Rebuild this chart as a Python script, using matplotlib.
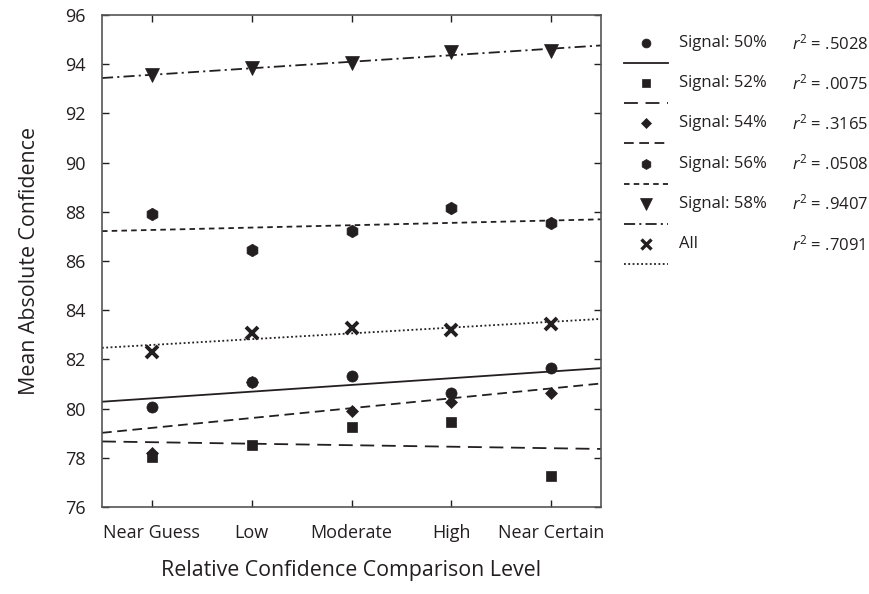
import matplotlib
matplotlib.use("Agg")
import matplotlib.pyplot as plt
import numpy as np

plt.rcParams['font.family'] = ['Open Sans', 'DejaVu Sans']
plt.rcParams['mathtext.fontset'] = 'custom'
plt.rcParams['mathtext.rm'] = 'Open Sans'
plt.rcParams['mathtext.it'] = 'Open Sans:italic'
plt.rcParams['lines.scale_dashes'] = False

# data
levels = ["Near Guess", "Low", "Moderate", "High", "Near Certain"]
series_names = ["Signal: 50%", "Signal: 52%", "Signal: 54%", "Signal: 56%", "Signal: 58%", "All"]
r2_labels = [".5028", ".0075", ".3165", ".0508", ".9407", ".7091"]
signal_50 = [80.07, 81.10, 81.33, 80.65, 81.66]
signal_52 = [78.05, 78.52, 79.25, 79.47, 77.27]
signal_54 = [78.20, 81.10, 79.90, 80.27, 80.62]
signal_56 = [87.92, 86.45, 87.20, 88.15, 87.55]
signal_58 = [93.55, 93.85, 94.05, 94.50, 94.55]
signal_all = [82.32, 83.07, 83.27, 83.20, 83.43]

ink = '#231f20'
markers = ['o', 's', 'D', 'h', 'v', 'x']
msizes = [8, 7.5, 6.5, 9, 10, 9]
dashes = [None, (10, 5.5), (7, 4), (4, 3), (8, 3, 1.5, 3), (1.3, 1.8)]

fig = plt.figure(figsize=(8.69, 5.94), dpi=100)
ax = fig.add_axes([102 / 869, 1 - 507 / 594, 499 / 869, 492 / 594])

xs = np.arange(len(levels))
xfit = np.array([-0.5, len(levels) - 0.5])
all_series = [signal_50, signal_52, signal_54, signal_56, signal_58, signal_all]
for vals, mk, ms, ds in zip(all_series, markers, msizes, dashes):
    ax.plot(xs, vals, linestyle='none', marker=mk, ms=ms, color=ink,
            mew=2.8 if mk == 'x' else 0.5, zorder=3)
    slope, icpt = np.polyfit(xs, vals, 1)
    ln, = ax.plot(xfit, icpt + slope * xfit, color=ink, lw=1.3, zorder=2)
    if ds is not None:
        ln.set_dashes(ds)

ax.set_xlim(-0.5, len(levels) - 0.5)
ax.set_ylim(76, 96)
ax.set_yticks(np.arange(76, 97, 2))
ax.set_xticks(xs)
ax.set_xticklabels(levels)
ax.tick_params(direction='in', top=True, right=True, length=5, width=1,
               color=ink, labelcolor=ink, labelsize=13, pad=12)
for sp in ax.spines.values():
    sp.set_color('#555555')
    sp.set_linewidth(1.2)
ax.set_xlabel("Relative Confidence Comparison Level", fontsize=15.4, color=ink, labelpad=13)
ax.set_ylabel("Mean Absolute Confidence", fontsize=15.4, color=ink, labelpad=18)

# legend drawn in pixel coordinates at the right of the plot
lg = fig.add_axes([0, 0, 1, 1])
lg.set_xlim(0, 869)
lg.set_ylim(594, 0)
lg.axis('off')
for i, (name, r2, mk, ms, ds) in enumerate(zip(series_names, r2_labels, markers, msizes, dashes)):
    y = 43 + 40.2 * i
    lg.plot([646], [y], marker=mk, ms=ms * 0.8, color=ink, linestyle='none',
            mew=2.4 if mk == 'x' else 0.5)
    ln, = lg.plot([624, 668], [y + 20, y + 20], color=ink, lw=1.3)
    if ds is not None:
        ln.set_dashes(ds)
    lg.text(679, y, name, fontsize=12, color=ink, va='center', ha='left')
    lg.text(792, y, r"$r^2$ = " + r2, fontsize=12, color=ink, va='center', ha='left')

fig.savefig("out.png", dpi=100)
